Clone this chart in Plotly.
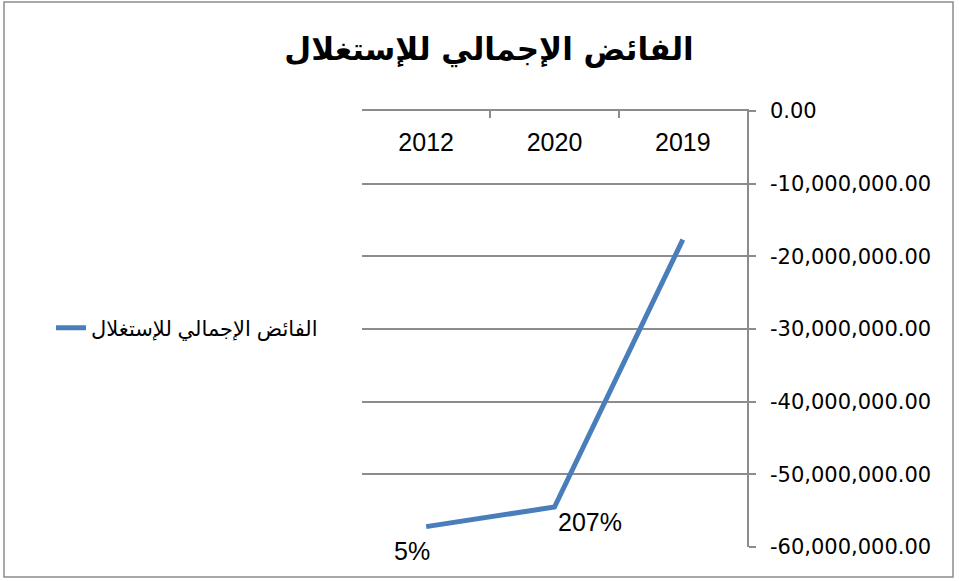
import plotly.graph_objects as go

categories = ["2019", "2020", "2012"]
values = [-17700000, -54500000, -57200000]
point_labels = ["", "207%", "5%"]
series_name = "الفائض الإجمالي للإستغلال"
title_text = "الفائض الإجمالي للإستغلال"
y_tickvals = [0, -10000000, -20000000, -30000000, -40000000, -50000000, -60000000]
y_ticktext = ["0.00", "-10,000,000.00", "-20,000,000.00", "-30,000,000.00",
              "-40,000,000.00", "-50,000,000.00", "-60,000,000.00"]

W, H = 959, 581
L, R, T, B = 362, 212, 111, 34
pw, ph = W - L - R, H - T - B

def px_to_paper_x(px):
    return (px - L) / pw

def px_to_paper_y(py):
    return (H - B - py) / ph

fig = go.Figure()
fig.add_trace(go.Scatter(
    x=categories, y=values, mode="lines", name=series_name,
    line=dict(color="#4a7ebb", width=5), showlegend=True,
))

label_cfg = {"207%": dict(xanchor="left", yanchor="top", xshift=1, yshift=1),
             "5%": dict(xanchor="right", yanchor="top", xshift=6, yshift=-8)}
for i, (v, t) in enumerate(zip(values, point_labels)):
    if t:
        fig.add_annotation(x=i, y=v, xref="x", yref="y", text=t, showarrow=False,
                           font=dict(size=25, color="black", family="Liberation Sans, Arial"),
                           **label_cfg[t])

fig.add_shape(type="rect", xref="paper", yref="paper",
              x0=px_to_paper_x(4), x1=px_to_paper_x(953),
              y0=px_to_paper_y(577), y1=px_to_paper_y(2),
              line=dict(color="#8c8c8c", width=1.5), layer="below")

fig.update_layout(
    width=W, height=H,
    margin=dict(l=L, r=R, t=T, b=B, autoexpand=False),
    paper_bgcolor="white", plot_bgcolor="white",
    font=dict(family="Liberation Sans, Arial, DejaVu Sans", color="black"),
    title=dict(text="<b>" + title_text + "</b>", x=489 / W, xanchor="center",
               y=1 - 49 / H, yanchor="middle", yref="container",
               font=dict(size=31, family="DejaVu Sans, Arial", color="black")),
    legend=dict(x=px_to_paper_x(51), y=px_to_paper_y(328), xanchor="left", yanchor="middle",
                font=dict(size=21, color="black"), bgcolor="rgba(0,0,0,0)"),
    xaxis=dict(type="category", categoryorder="array", categoryarray=categories,
               range=[2.5, -0.5], autorange=False, side="top", showgrid=False,
               showline=True, linecolor="#8c8c8c", linewidth=1.5,
               ticks="inside", ticklen=7, tickcolor="#8c8c8c", tickwidth=1.5,
               tickson="boundaries", tickfont=dict(size=25, color="black"), tickangle=0,
               ticklabelstandoff=-52, automargin=False,
               zeroline=False, fixedrange=True),
    yaxis=dict(side="right", range=[-60000000, 0], tickvals=y_tickvals, ticktext=y_ticktext,
               showgrid=True, gridcolor="#8c8c8c", gridwidth=1.5,
               showline=True, linecolor="#8c8c8c", linewidth=1.5,
               ticks="outside", ticklen=7, tickcolor="#8c8c8c", tickwidth=1.5,
               ticklabelstandoff=10,
               tickfont=dict(size=21, family="DejaVu Sans", color="black"), automargin=False,
               zeroline=False, fixedrange=True),
)

fig.write_html("out.html", config={"displayModeBar": False},
               post_script="document.body.style.margin='0';")
